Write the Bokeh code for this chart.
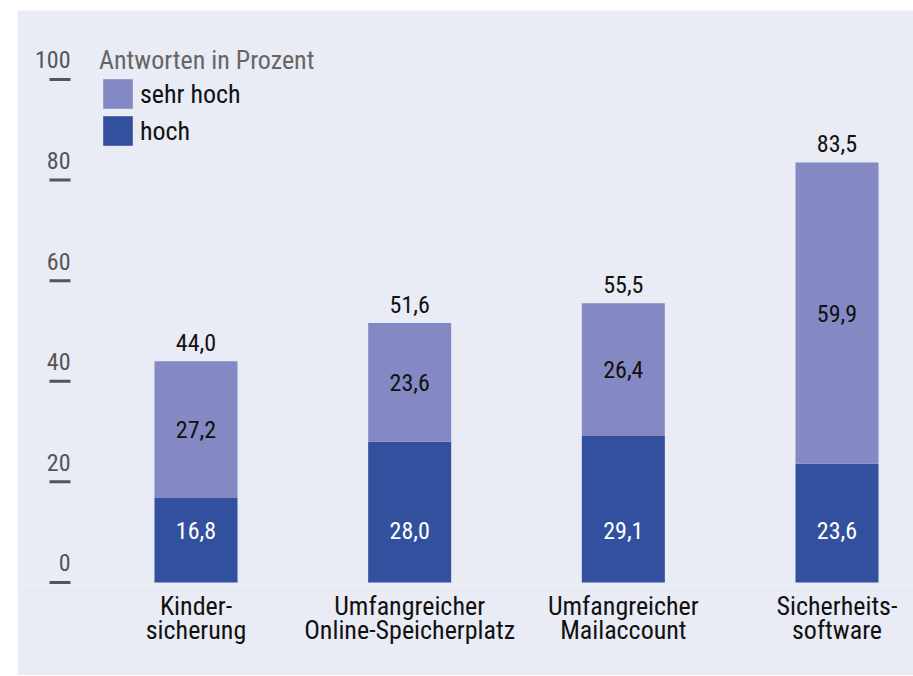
from bokeh.plotting import figure
from bokeh.models import (ColumnDataSource, Range1d, FixedTicker, LabelSet,
                          Legend, LegendItem)
from bokeh.core.properties import value
from bokeh.embed import file_html
from bokeh.resources import INLINE

# ---------------- data ----------------
categories = ["Kinder-\nsicherung", "Umfangreicher\nOnline-Speicherplatz",
              "Umfangreicher\nMailaccount", "Sicherheits-\nsoftware"]
hoch = [16.8, 28.0, 29.1, 23.6]
sehr_hoch = [27.2, 23.6, 26.4, 59.9]
totals = [44.0, 51.6, 55.5, 83.5]
y_ticks = [0, 20, 40, 60, 80, 100]
legend_title = "Antworten in Prozent"
series_labels = ["hoch", "sehr hoch"]

# ---------------- style / layout ----------------
BG = "#e9ebf5"
C_HOCH = "#33509e"
C_SEHR = "#8489c3"
TICK_C = "#555555"
FONT = "Roboto Condensed"
HOCH_LABEL_LEVEL = 10.3          # label level inside the lower segments
X_START, X_END = -0.8354, 3.358  # x range (category index units)
Y_START, Y_END = -0.4, 113.7
TICK_X0, TICK_X1 = -0.6856, -0.5874  # span of the y tick dashes


def de(v):
    return f"{v:.1f}".replace(".", ",")


xs = list(range(len(categories)))
src = ColumnDataSource(dict(
    x=xs, hoch=hoch, sehr_hoch=sehr_hoch, total=totals,
    hoch_lbl=[de(v) for v in hoch],
    sehr_lbl=[de(v) for v in sehr_hoch],
    total_lbl=[de(v) for v in totals],
    sehr_mid=[h + s / 2 for h, s in zip(hoch, sehr_hoch)],
    hoch_pos=[HOCH_LABEL_LEVEL for _ in hoch],
))

p = figure(width=896, height=665,
           x_range=Range1d(X_START, X_END), y_range=Range1d(Y_START, Y_END),
           output_backend="svg", toolbar_location=None,
           min_border_left=0, min_border_right=0, min_border_top=0,
           min_border_bottom=91,
           background_fill_color=BG, border_fill_color=BG,
           outline_line_color=None)
p.margin = (10, 0, 0, 17)
p.xgrid.visible = False
p.ygrid.visible = False
p.yaxis.visible = False

rs = p.vbar_stack(["hoch", "sehr_hoch"], x="x", width=0.3885,
                  color=[C_HOCH, C_SEHR], line_color=None, source=src)

# x axis (category labels)
xa = p.xaxis[0]
xa.ticker = FixedTicker(ticks=xs)
xa.major_label_overrides = {i: c for i, c in zip(xs, categories)}
xa.axis_line_color = None
xa.major_tick_line_color = None
xa.minor_tick_line_color = None
xa.major_label_text_font = FONT
xa.major_label_text_font_size = "26px"
xa.major_label_text_color = "#111111"
xa.major_label_standoff = 0
xa.major_label_text_line_height = 0.82

# y scale: tick dashes with the values written above them
tick_src = ColumnDataSource(dict(
    x0=[TICK_X0 for _ in y_ticks], x1=[TICK_X1 for _ in y_ticks],
    y=y_ticks, t=[str(t) for t in y_ticks]))
p.segment(x0="x0", y0="y", x1="x1", y1="y", source=tick_src,
          line_color=TICK_C, line_width=3)
p.add_layout(LabelSet(x="x1", y="y", text="t", source=tick_src,
                      text_align="right", text_baseline="alphabetic",
                      y_offset=11, text_font=value(FONT),
                      text_font_size=value("24px"),
                      text_color=TICK_C))

# totals above bars
p.add_layout(LabelSet(x="x", y="total", text="total_lbl", source=src,
                      text_align="center", text_baseline="alphabetic",
                      y_offset=10, text_font=value(FONT),
                      text_font_size=value("24px"),
                      text_color="#111111"))
# inside labels
p.add_layout(LabelSet(x="x", y="sehr_mid", text="sehr_lbl", source=src,
                      text_align="center", text_baseline="middle",
                      text_font=value(FONT), text_font_size=value("24px"),
                      text_color="#111111"))
p.add_layout(LabelSet(x="x", y="hoch_pos", text="hoch_lbl", source=src,
                      text_align="center", text_baseline="middle",
                      text_font=value(FONT), text_font_size=value("24px"),
                      text_color="#ffffff"))

legend = Legend(items=[LegendItem(label=series_labels[1], renderers=[rs[1]]),
                       LegendItem(label=series_labels[0], renderers=[rs[0]])],
                title=legend_title, location=(82, 435),
                padding=0, margin=0, spacing=0,
                border_line_color=None, background_fill_alpha=0,
                glyph_width=37, glyph_height=37, label_standoff=4,
                label_text_font=FONT, label_text_font_size="26px",
                label_text_color="#111111",
                title_text_font=FONT, title_text_font_size="26px",
                title_text_font_style="normal", title_text_color="#666666",
                title_standoff=0)
p.add_layout(legend)

open("out.html", "w").write(file_html(p, INLINE))
